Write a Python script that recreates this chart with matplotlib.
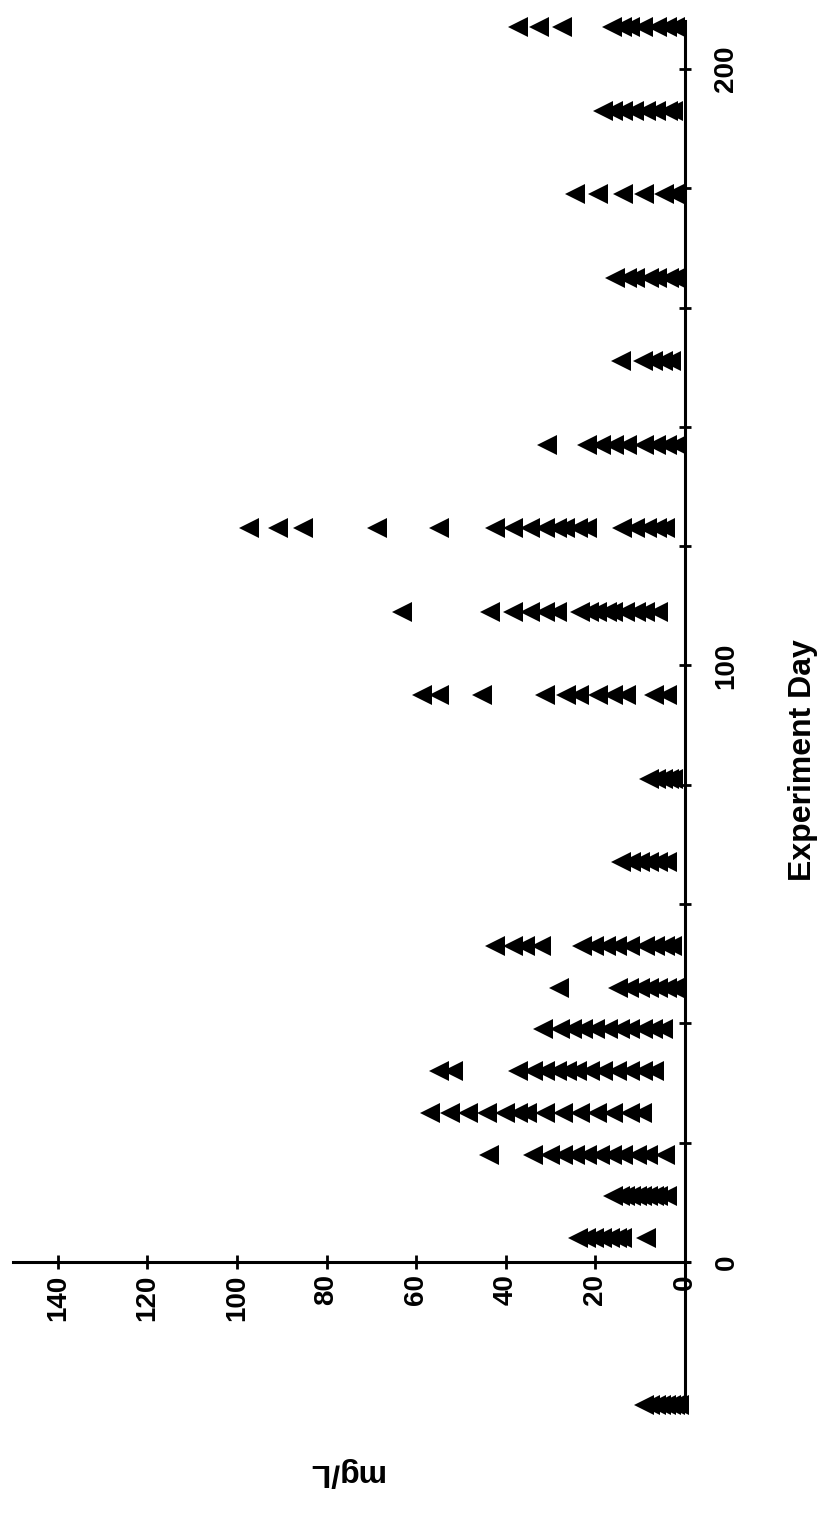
import matplotlib
matplotlib.use("Agg")
import matplotlib.pyplot as plt
from matplotlib.ticker import FixedLocator

# ---- data (Experiment Day -> concentrations in mg/L) ----
days = [-24, 4, 11, 18, 25, 32, 39, 46, 53, 67, 81, 95, 109, 123, 137, 151, 165, 179, 193, 207]

conc_dm24 = [9.2, 7.8, 6.5, 5.3, 4.2, 3.2, 2.2, 1.4]
conc_d004 = [23.9, 22.0, 20.2, 18.5, 16.8, 15.2, 14.1, 8.7]
conc_d011 = [16.1, 14.5, 13.4, 12.0, 10.7, 9.5, 8.3, 7.0, 6.0, 4.0]
conc_d018 = [43.8, 33.9, 30.1, 27.2, 24.6, 21.9, 19.0, 16.3, 13.8, 10.7, 8.3, 4.5]
conc_d025 = [56.9, 52.5, 48.4, 44.2, 40.2, 37.3, 35.3, 31.3, 27.2, 23.4, 19.6, 16.1, 12.3, 9.6]
conc_d032 = [54.9, 51.8, 37.3, 33.9, 31.3, 28.6, 26.3, 24.1, 21.2, 18.3, 15.2, 12.3, 9.4, 7.0]
conc_d039 = [31.8, 27.9, 25.3, 22.7, 20.1, 17.1, 14.5, 12.3, 9.3, 7.1, 4.8]
conc_d046 = [28.1, 15.0, 12.5, 10.0, 8.0, 6.0, 4.0, 2.5]
conc_d053 = [42.3, 38.4, 35.7, 32.1, 23.1, 20.2, 17.7, 15.1, 12.2, 9.0, 6.8, 4.4, 3.0]
conc_d067 = [14.3, 12.0, 10.0, 8.0, 6.0, 4.0]
conc_d081 = [8.0, 6.5, 5.0, 3.5, 2.7]
conc_d095 = [58.7, 54.9, 45.3, 31.2, 26.6, 23.7, 19.4, 16.1, 13.2, 6.9, 4.0]
conc_d109 = [63.2, 43.5, 38.4, 34.6, 31.3, 28.5, 23.4, 21.5, 19.6, 17.5, 16.0, 13.4, 11.0, 8.9, 6.0]
conc_d123 = [97.3, 90.8, 85.3, 68.8, 54.9, 42.4, 38.4, 34.6, 31.3, 28.5, 26.8, 23.9, 21.9,
             14.1, 11.2, 8.5, 6.3, 4.5]
conc_d137 = [30.8, 21.9, 18.8, 15.8, 12.9, 9.2, 6.5, 4.0, 1.8]
conc_d151 = [14.3, 9.4, 7.1, 4.9, 3.1]
conc_d165 = [15.6, 13.0, 11.2, 8.0, 6.3, 3.6, 2.2]
conc_d179 = [24.6, 19.4, 13.8, 9.2, 4.7, 2.5]
conc_d193 = [18.3, 16.0, 13.8, 11.4, 8.7, 6.5, 3.8, 2.7]
conc_d207 = [37.3, 32.6, 27.5, 16.3, 14.0, 12.3, 9.4, 6.3, 4.0, 2.2]

series = [conc_dm24, conc_d004, conc_d011, conc_d018, conc_d025, conc_d032, conc_d039,
          conc_d046, conc_d053, conc_d067, conc_d081, conc_d095, conc_d109, conc_d123,
          conc_d137, conc_d151, conc_d165, conc_d179, conc_d193, conc_d207]

conc_ticks = [0, 20, 40, 60, 80, 100, 120, 140]
conc_tick_labels = ["0", "20", "40", "60", "80", "100", "120", "140"]
day_ticks = [0, 100, 200]
day_tick_labels = ["0", "100", "200"]
day_minor_ticks = [20, 40, 60, 80, 120, 140, 160, 180]

FONT = ["Liberation Sans", "DejaVu Sans"]

# ---- figure (chart is drawn rotated: mg/L runs leftwards, day runs upwards) ----
fig = plt.figure(figsize=(8.21, 15.31), dpi=100)
ax = fig.add_axes([0, 0, 1, 1])
ax.patch.set_alpha(0)

for d, vals in zip(days, series):
    ax.plot(vals, [d] * len(vals), linestyle="none", marker="<", ms=14.4,
            color="black", mew=0)

ax.set_xlim(152.9, -30.36)
ax.set_ylim(-45.1, 211.57)

ax.spines["left"].set_visible(False)
ax.spines["top"].set_visible(False)
ax.spines["bottom"].set_position(("data", 0))
ax.spines["bottom"].set_bounds(-1, 150)
ax.spines["right"].set_position(("data", 0))
ax.spines["right"].set_bounds(-24.5, 208)
for s in ("bottom", "right"):
    ax.spines[s].set_linewidth(2.2)

ax.yaxis.tick_right()
ax.set_xticks(conc_ticks)
ax.set_xticklabels(conc_tick_labels, rotation=90, va="top", ha="center",
                   fontsize=20, fontweight="bold", family=FONT)
ax.set_yticks(day_ticks)
ax.set_yticklabels(day_tick_labels, rotation=90, va="center", ha="left",
                   fontsize=20, fontweight="bold", family=FONT)
ax.yaxis.set_minor_locator(FixedLocator(day_minor_ticks))

ax.tick_params(axis="x", direction="inout", length=10, width=2, pad=4)
ax.tick_params(axis="y", which="major", direction="inout", length=9, width=2, pad=16)
ax.tick_params(axis="y", which="minor", direction="inout", length=9, width=2)

fig.text(803 / 821, 1 - 760 / 1531, "Experiment Day", rotation=90, ha="center",
         va="center", fontsize=23, fontweight="bold", family=FONT)
fig.text(345 / 821, 1 - 1472 / 1531, "mg/L", rotation=180, ha="center",
         va="center", fontsize=23, fontweight="bold", family=FONT)

fig.savefig("out.png", dpi=100)
